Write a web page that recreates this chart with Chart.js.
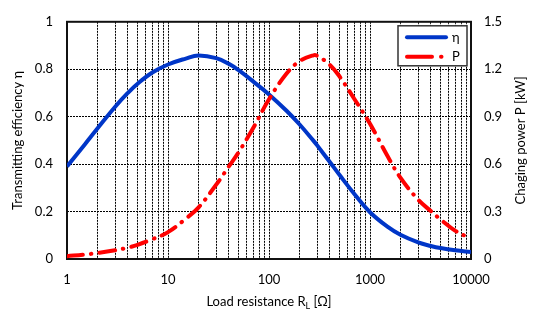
<!DOCTYPE html>
<html>
<head>
<meta charset="utf-8">
<script src="https://cdn.jsdelivr.net/npm/chart.js@4/dist/chart.umd.min.js"></script>
<style>
html,body{margin:0;padding:0;background:#fff;}
#wrap{width:533px;height:318px;position:relative;}
</style>
</head>
<body>
<div id="wrap"><canvas id="c" width="533" height="318"></canvas></div>
<script>
// Load resistance R_L [Ω]
const loadResistance = [1,1.5,2,3,4,5,7,10,15,20,30,40,50,70,100,150,200,275,300,400,500,700,1000,1500,2000,3000,4000,5000,7000,10000];
// Transmitting efficiency η
const efficiency = [0.39,0.483,0.55,0.642,0.70,0.739,0.786,0.82,0.845,0.858,0.847,0.823,0.796,0.748,0.694,0.624,0.568,0.499,0.479,0.409,0.354,0.274,0.197,0.135,0.102,0.07,0.055,0.046,0.0365,0.029];
// Charging power P [kW]
const power = [0.018,0.028,0.038,0.055,0.072,0.09,0.125,0.17,0.255,0.325,0.47,0.585,0.675,0.83,1.01,1.174,1.25,1.288,1.285,1.228,1.154,1.012,0.855,0.648,0.515,0.375,0.303,0.25,0.178,0.13];

const xGridValues = [1,2,3,4,5,6,7,8,9,10,20,30,40,50,60,70,80,90,100,200,300,400,500,600,700,800,900,1000,2000,3000,4000,5000,6000,7000,8000,9000,10000];
const xTickLabels = [1,10,100,1000,10000];
const leftTicks = [0,0.2,0.4,0.6,0.8,1];
const leftTickLabels = ['0','0.2','0.4','0.6','0.8','1'];
const rightTicks = [0,0.3,0.6,0.9,1.2,1.5];
const rightTickLabels = ['0','0.3','0.6','0.9','1.2','1.5'];

const FONT = 'Lato';
const BLUE = '#0036c8';
const RED = '#ff0000';
const RED_DASH = [16,8,0.5,8];

const effPts = loadResistance.map((x,i)=>({x:x,y:efficiency[i]}));
const powPts = loadResistance.map((x,i)=>({x:x,y:power[i]}));

const framePlugin = {
  id:'frame',
  beforeDatasetsDraw(chart){
    const {ctx, chartArea:a} = chart;
    ctx.save();
    ctx.strokeStyle = '#111';
    ctx.lineWidth = 2;
    ctx.strokeRect(a.left, a.top, a.right-a.left, a.bottom-a.top);
    ctx.restore();
  }
};

const titlesPlugin = {
  id:'titles',
  afterDraw(chart){
    const {ctx, chartArea:a} = chart;
    ctx.save();
    ctx.fillStyle = '#000';
    ctx.textBaseline = 'middle';
    const p1 = 'Load resistance R', sub = 'L', p2 = ' [Ω]';
    ctx.font = '13px ' + FONT;
    const w1 = ctx.measureText(p1).width;
    const w3 = ctx.measureText(p2).width;
    ctx.font = '9px ' + FONT;
    const w2 = ctx.measureText(sub).width;
    const total = w1 + w2 + w3;
    let x = (a.left + a.right)/2 - total/2;
    const y = 302;
    ctx.textAlign = 'left';
    ctx.font = '13px ' + FONT;
    ctx.fillText(p1, x, y);
    ctx.font = '9px ' + FONT;
    ctx.fillText(sub, x + w1, y + 4);
    ctx.font = '13px ' + FONT;
    ctx.fillText(p2, x + w1 + w2, y);
    const cy = (a.top + a.bottom)/2;
    ctx.save();
    ctx.translate(18, cy);
    ctx.rotate(-Math.PI/2);
    ctx.textAlign = 'center';
    ctx.fillText('Transmitting efficiency η', 0, 0);
    ctx.restore();
    ctx.save();
    ctx.translate(521, cy);
    ctx.rotate(-Math.PI/2);
    ctx.textAlign = 'center';
    ctx.fillText('Chaging power P [kW]', 0, 0);
    ctx.restore();
    ctx.restore();
  }
};

const legendPlugin = {
  id:'boxLegend',
  afterDraw(chart){
    const {ctx, chartArea:a} = chart;
    const x0 = a.right - 73, y0 = a.top + 4, w = 69, h = 40;
    ctx.save();
    ctx.fillStyle = '#fff';
    ctx.fillRect(x0, y0, w, h);
    ctx.strokeStyle = '#333';
    ctx.lineWidth = 1.5;
    ctx.strokeRect(x0, y0, w, h);
    ctx.lineCap = 'round';
    ctx.lineWidth = 4;
    ctx.strokeStyle = BLUE;
    ctx.beginPath(); ctx.moveTo(x0+9, y0+11.5); ctx.lineTo(x0+48, y0+11.5); ctx.stroke();
    ctx.strokeStyle = RED;
    ctx.beginPath(); ctx.moveTo(x0+9, y0+31); ctx.lineTo(x0+34, y0+31); ctx.stroke();
    ctx.beginPath(); ctx.moveTo(x0+43, y0+31); ctx.lineTo(x0+43.5, y0+31); ctx.stroke();
    ctx.fillStyle = '#000';
    ctx.font = '13px ' + FONT;
    ctx.textBaseline = 'middle';
    ctx.textAlign = 'left';
    ctx.fillText('η', x0+54, y0+12);
    ctx.fillText('P', x0+54, y0+31);
    ctx.restore();
  }
};

new Chart(document.getElementById('c'), {
  type:'line',
  data:{
    datasets:[
      {label:'η', data:effPts, yAxisID:'y', borderColor:BLUE, borderWidth:4, pointRadius:0, tension:0.4, fill:false, order:2},
      {label:'P', data:powPts, yAxisID:'y1', borderColor:RED, borderWidth:4, borderDash:RED_DASH, borderCapStyle:'round', pointRadius:0, tension:0.4, fill:false, order:1}
    ]
  },
  options:{
    responsive:false,
    animation:false,
    layout:{padding:{top:9,left:0,right:0,bottom:0}},
    plugins:{legend:{display:false}, tooltip:{enabled:false}},
    scales:{
      x:{
        type:'logarithmic', min:1, max:10000,
        afterBuildTicks(s){ s.ticks = xGridValues.map(v=>({value:v})); },
        afterFit(s){ s.height = 59; },
        ticks:{
          autoSkip:false, maxRotation:0, minRotation:0, padding:13,
          color:'#000', font:{family:FONT, size:13},
          callback(v){ return xTickLabels.includes(v) ? String(v) : ''; }
        },
        grid:{color:'#000', lineWidth:1, drawTicks:false},
        border:{display:false, dash:[2,1]}
      },
      y:{
        position:'left', min:0, max:1,
        afterBuildTicks(s){ s.ticks = leftTicks.map(v=>({value:v})); },
        afterFit(s){ s.width = 67; },
        ticks:{
          padding:14, color:'#000', font:{family:FONT, size:13},
          callback(v){ const i = leftTicks.findIndex(t=>Math.abs(t-v)<1e-9); return i>=0 ? leftTickLabels[i] : ''; }
        },
        grid:{color:'#000', lineWidth:1, drawTicks:false},
        border:{display:false, dash:[2,1]}
      },
      y1:{
        position:'right', min:0, max:1.5,
        afterBuildTicks(s){ s.ticks = rightTicks.map(v=>({value:v})); },
        afterFit(s){ s.width = 62; },
        ticks:{
          padding:13, color:'#000', font:{family:FONT, size:13},
          callback(v){ const i = rightTicks.findIndex(t=>Math.abs(t-v)<1e-9); return i>=0 ? rightTickLabels[i] : ''; }
        },
        grid:{display:false, drawTicks:false},
        border:{display:false}
      }
    }
  },
  plugins:[framePlugin, titlesPlugin, legendPlugin]
});
</script>
</body>
</html>
